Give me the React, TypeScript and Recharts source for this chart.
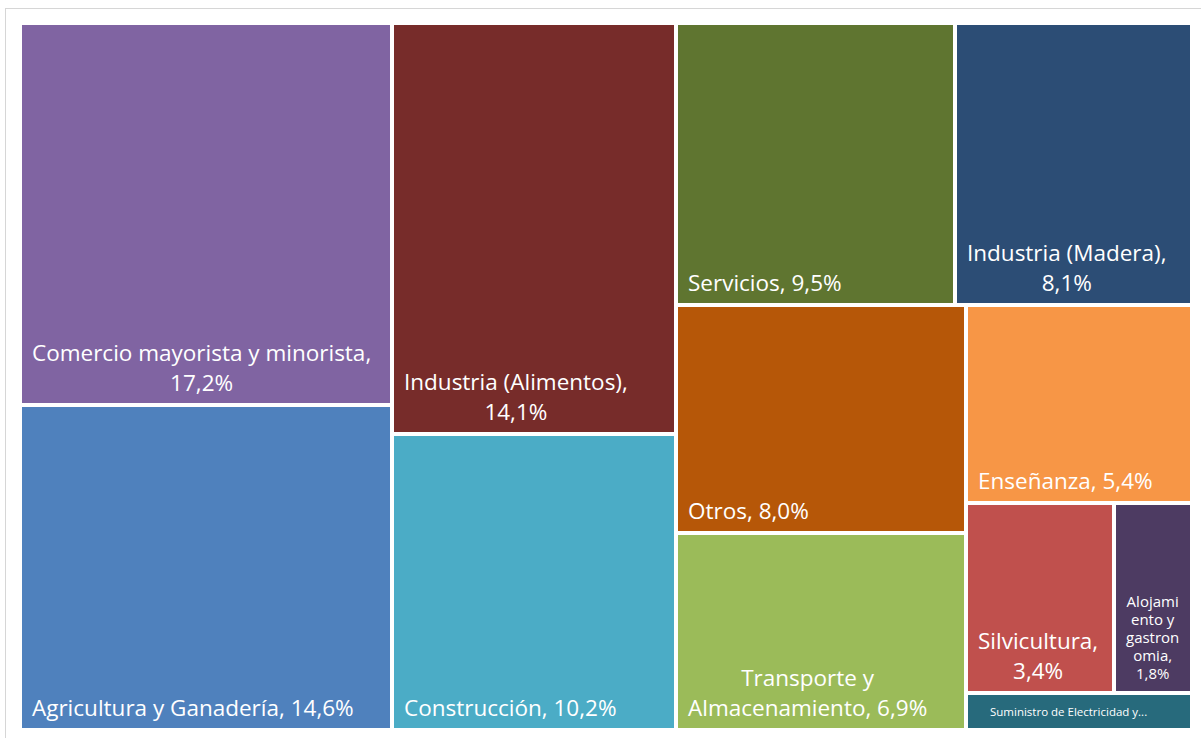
import React from "react";
import { Treemap } from "recharts";

// sectores y porcentajes
const names = [
  "Comercio mayorista y minorista",
  "Agricultura y Ganadería",
  "Industria (Alimentos)",
  "Construcción",
  "Servicios",
  "Industria (Madera)",
  "Otros",
  "Transporte y Almacenamiento",
  "Enseñanza",
  "Silvicultura",
  "Alojamiento y gastronomía",
  "Suministro de Electricidad y Agua",
];
const values = [17.2, 14.6, 14.1, 10.2, 9.5, 8.1, 8.0, 6.9, 5.4, 3.4, 1.8, 1.0];

// texto de cada etiqueta, línea por línea
const labelLines = [
  ["Comercio mayorista y minorista,", "17,2%"],
  ["Agricultura y Ganadería, 14,6%"],
  ["Industria (Alimentos),", "14,1%"],
  ["Construcción, 10,2%"],
  ["Servicios, 9,5%"],
  ["Industria (Madera),", "8,1%"],
  ["Otros, 8,0%"],
  ["Transporte y", "Almacenamiento, 6,9%"],
  ["Enseñanza, 5,4%"],
  ["Silvicultura,", "3,4%"],
  ["Alojami", "ento y", "gastron", "omia,", "1,8%"],
  ["Suministro de Electricidad y..."],
];

// Silvicultura + Alojamiento share one strip
const groupedIdx = [9, 10];

const PALETTE = [
  "#8064A2", "#4F81BD", "#772C2A", "#4BACC6", "#5F7530", "#2C4D75",
  "#B65708", "#9BBB59", "#F79646", "#C0504D", "#4D3B62", "#276A7C",
];

const FONT = '"Segoe UI", "Open Sans", sans-serif';

const leaf = (i: number) => ({ name: names[i], value: values[i], idx: i });

const data = [
  ...names.slice(0, 9).map((_, i) => leaf(i)),
  { name: "grupo", children: groupedIdx.map(leaf) },
  leaf(11),
];

let ctx: CanvasRenderingContext2D | null = null;
function textWidth(s: string, size: number) {
  if (!ctx) ctx = document.createElement("canvas").getContext("2d");
  if (!ctx) return s.length * size * 0.52;
  ctx.font = `${size}px ${FONT}`;
  return ctx.measureText(s).width;
}

function renderCell(props: any) {
  const { x, y, width, height, depth, children, idx } = props;
  if (depth === 0 || (children && children.length) || idx === undefined) return <g />;
  const lines: string[] = labelLines[idx];
  let size = 22.5;
  let lh = 30;
  let left = x + 12;
  if (height < 45) {
    size = 11.5;
    lh = 13;
    left = x + 24;
  } else if (width < 100) {
    size = 15;
    lh = 18;
  }
  const blockW = Math.max(...lines.map((l) => textWidth(l, size)));
  const cx = left + blockW / 2;
  const baseY = y + height - 14;
  return (
    <g>
      <rect x={x} y={y} width={width} height={height} fill={PALETTE[idx]} stroke="#fff" strokeWidth={4} />
      {lines.map((l, k) => (
        <text
          key={k}
          x={cx}
          y={baseY - (lines.length - 1 - k) * lh}
          textAnchor="middle"
          fill="#fff"
          fontSize={size}
          fontFamily={FONT}
        >
          {l}
        </text>
      ))}
    </g>
  );
}

export default function App() {
  return (
    <div style={{ position: "relative", width: 1201, height: 738, overflow: "hidden", background: "#fff" }}>
      <style>{"html,body{margin:0;overflow:hidden}"}</style>
      <div
        style={{
          position: "absolute",
          left: 5,
          top: 8,
          width: 1300,
          height: 800,
          borderTop: "1px solid #d6d6d6",
          borderLeft: "1px solid #d6d6d6",
        }}
      />
      <div style={{ position: "absolute", left: 20, top: 23 }}>
        <Treemap
          width={1172}
          height={707}
          data={data}
          dataKey="value"
          aspectRatio={1}
          type="flat"
          isAnimationActive={false}
          isUpdateAnimationActive={false}
          content={renderCell}
        />
      </div>
    </div>
  );
}
